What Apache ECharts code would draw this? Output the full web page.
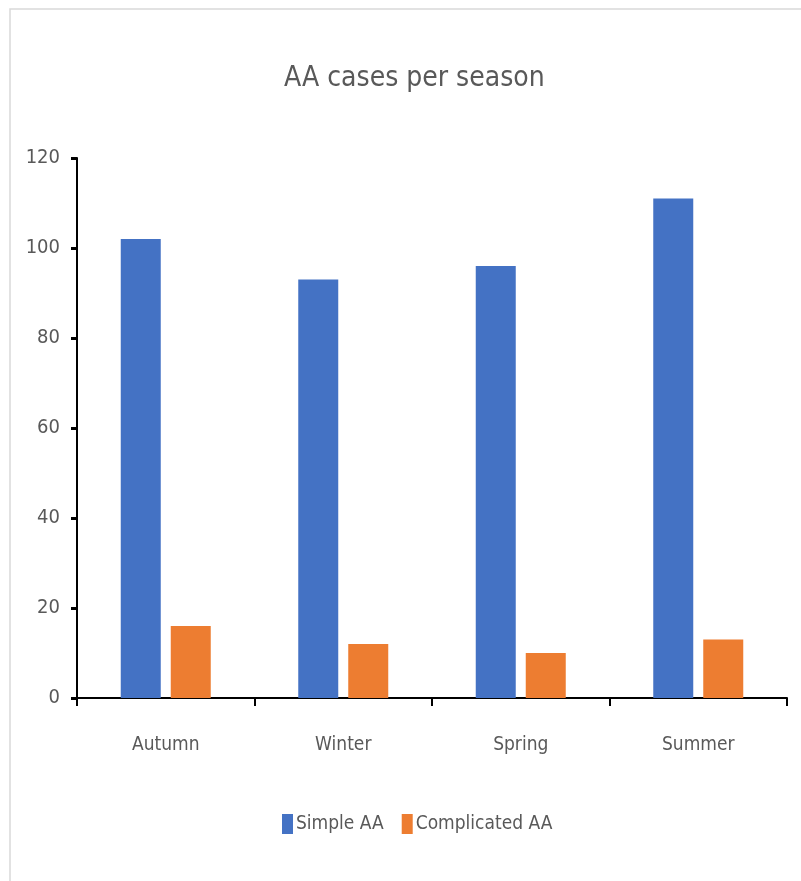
<!DOCTYPE html>
<html>
<head>
<meta charset="utf-8">
<script src="https://cdn.jsdelivr.net/npm/echarts@6/dist/echarts.min.js"></script>
<style>
  html, body { margin: 0; padding: 0; background: #fff; }
  #main { width: 801px; height: 881px; }
</style>
</head>
<body>
<div id="main"></div>
<script>
var seasons = ['Autumn', 'Winter', 'Spring', 'Summer'];
var simpleAA = [102, 93, 96, 111];
var complicatedAA = [16, 12, 10, 13];

var font = '"DejaVu Sans Condensed", "Liberation Sans Narrow", sans-serif';
var chart = echarts.init(document.getElementById('main'));

chart.setOption({
    backgroundColor: '#fff',
    textStyle: { fontFamily: font },
    graphic: [{
        type: 'rect',
        shape: { x: 10, y: 9, width: 800, height: 880 },
        style: { fill: 'none', stroke: '#d9d9d9', lineWidth: 1.5 },
        silent: true
    }],
    title: {
        text: 'AA cases per season',
        left: 279,
        top: 60,
        textStyle: { fontFamily: font, fontSize: 28, fontWeight: 'normal', color: '#595959' }
    },
    legend: {
        bottom: 42,
        left: 277,
        itemWidth: 11,
        itemHeight: 20,
        itemGap: 18,
        icon: 'rect',
        textStyle: { fontFamily: font, fontSize: 19, color: '#595959', padding: [0, 0, 0, -2] },
        data: ['Simple AA', 'Complicated AA']
    },
    grid: { left: 77, right: 14, top: 158, bottom: 183, containLabel: false },
    xAxis: {
        type: 'category',
        data: seasons,
        axisLine: { lineStyle: { color: '#000', width: 2 } },
        axisTick: { show: true, alignWithLabel: false, length: 8, lineStyle: { color: '#000', width: 2 } },
        axisLabel: { fontFamily: font, fontSize: 19, color: '#595959', margin: 38 }
    },
    yAxis: {
        type: 'value',
        min: 0,
        max: 120,
        interval: 20,
        splitLine: { show: false },
        axisLine: { show: true, lineStyle: { color: '#000', width: 2 } },
        axisTick: { show: true, length: 6, lineStyle: { color: '#000', width: 3 } },
        axisLabel: { fontFamily: font, fontSize: 20, color: '#595959', margin: 17 }
    },
    series: [{
        name: 'Simple AA',
        type: 'bar',
        data: simpleAA,
        barWidth: 40,
        barGap: '25%',
        itemStyle: { color: '#4472C4' }
    }, {
        name: 'Complicated AA',
        type: 'bar',
        data: complicatedAA,
        barWidth: 40,
        itemStyle: { color: '#ED7D31' }
    }]
});
</script>
</body>
</html>
